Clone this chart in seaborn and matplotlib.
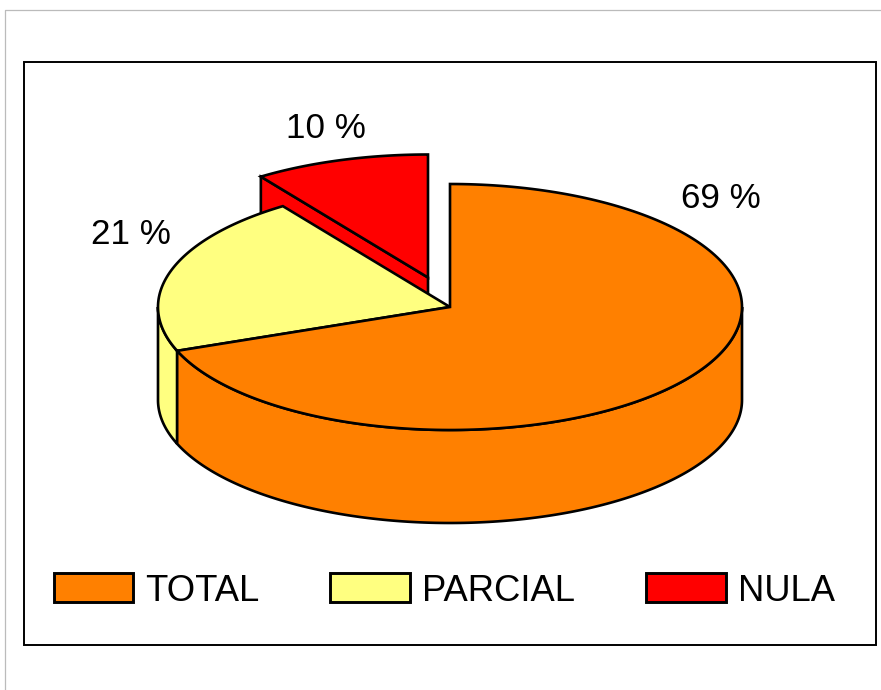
import matplotlib
matplotlib.use('Agg')
import matplotlib.pyplot as plt
from matplotlib.patches import Patch, Rectangle
import numpy as np
import seaborn as sns

# Dados
categories = ['TOTAL', 'PARCIAL', 'NULA']
shares = [69.2, 21.1, 9.7]
pct_labels = ['69 %', '21 %', '10 %']
colors = ['#FF8000', '#FFFF80', '#FF0000']

sns.set_theme(style='white')
plt.rcParams['font.family'] = ['Liberation Sans', 'DejaVu Sans']

# everything is laid out in pixels of the 881x690 picture
fig, ax = plt.subplots(figsize=(8.81, 6.9), dpi=100)
ax.set_position([0, 0, 1, 1])
ax.set_xlim(0, 881)
ax.set_ylim(690, 0)
ax.axis('off')

cx, cy = 450, 307
rx, ry = 292, 123
depth = 93
lw = 1.9


def arc(t0, t1, ox=0, oy=0, dy=0):
    t = np.radians(np.linspace(t0, t1, 200))
    return cx + ox + rx * np.cos(t), cy + oy + dy - ry * np.sin(t)


def shape(x, y, color, z):
    ax.fill(x, y, facecolor=color, edgecolor='black', linewidth=lw, zorder=z)


# paper edge and chart frame
ax.plot([5, 5, 881], [690, 10, 10], color='#BBBBBB', lw=0.9, zorder=1)
ax.add_patch(Rectangle((24, 62), 852, 583, fill=False, ec='black', lw=1.4, zorder=1))

# slice limits, clockwise from 12 o'clock
ends = (90 - np.cumsum(shares) * 3.6) % 360
a_total, a_parcial = ends[0], ends[1]

# NULA, pulled out of the pie
ox, oy = -22, -29.5
xn, yn = arc(a_parcial, 90, ox, oy)
px, py = cx + ox, cy + oy
shape([xn[0], px, px, xn[0]], [yn[0], py, py + depth, yn[0] + depth], colors[2], 2)
shape(np.r_[px, xn], np.r_[py, yn], colors[2], 3)

# PARCIAL
xw, yw = arc(180, a_total)
xb, yb = arc(a_total, 180, dy=depth)
shape(np.r_[xw, xb], np.r_[yw, yb], colors[1], 4)
xp, yp = arc(a_total, a_parcial)
shape(np.r_[cx, xp], np.r_[cy, yp], colors[1], 5)

# TOTAL
xw, yw = arc(a_total, 360)
xb, yb = arc(360, a_total, dy=depth)
shape(np.r_[xw, xb], np.r_[yw, yb], colors[0], 6)
xt, yt = arc(90, a_total - 360)
shape(np.r_[cx, xt], np.r_[cy, yt], colors[0], 7)

# percentage labels
label_pos = [(720.5, 199), (130.5, 235), (326, 129)]
for txt, (lx, ly) in zip(pct_labels, label_pos):
    ax.text(lx, ly, txt, ha='center', va='center', fontsize=25.2, color='black', zorder=8)

handles = [Patch(facecolor=c, edgecolor='black', linewidth=2.1, label=n)
           for c, n in zip(colors, categories)]
ax.legend(handles=handles, ncols=3, frameon=False, fontsize=26.2, labelcolor='black',
          loc='center left', bbox_to_anchor=(53.5 / 881, 1 - 591 / 690),
          borderpad=0, borderaxespad=0, handlelength=2.19, handleheight=0.85,
          handletextpad=0.33, columnspacing=1.95)

fig.savefig('out.png', dpi=100, facecolor='white')
